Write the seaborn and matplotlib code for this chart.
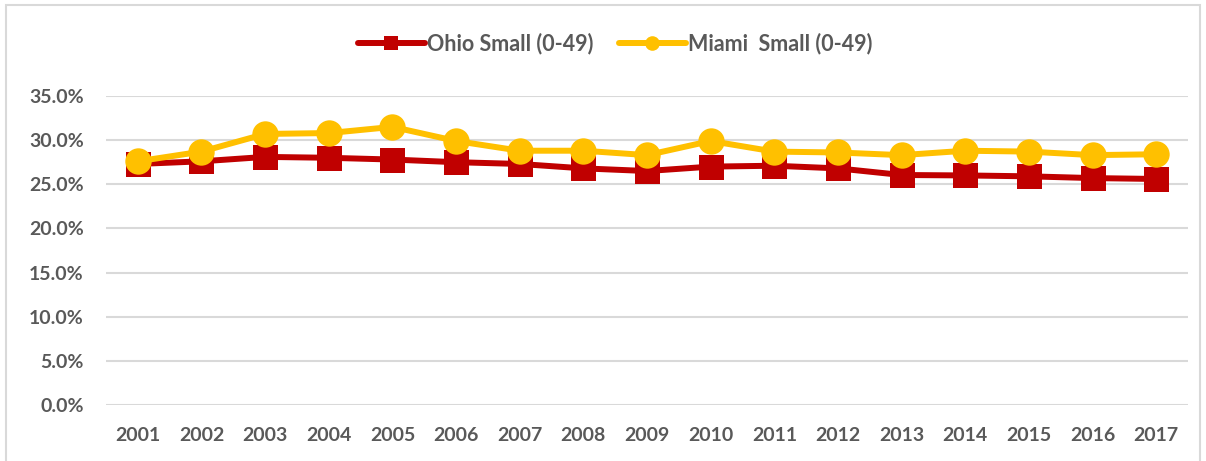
import seaborn as sns
import matplotlib.pyplot as plt
import pandas as pd
from matplotlib.patches import Rectangle
from matplotlib.ticker import PercentFormatter

# datos
years = list(range(2001, 2018))
ohio = [27.3, 27.6, 28.1, 28.0, 27.8, 27.5, 27.3, 26.8, 26.5, 27.0, 27.1, 26.8, 26.05, 26.0, 25.9, 25.7, 25.6]
miami = [27.6, 28.7, 30.7, 30.8, 31.5, 29.9, 28.8, 28.8, 28.3, 29.9, 28.7, 28.6, 28.3, 28.8, 28.7, 28.3, 28.4]
names = ["Ohio Small (0-49)", "Miami  Small (0-49)"]

sns.set_style("white")
plt.rcParams['font.family'] = ['Lato', 'DejaVu Sans']

fig = plt.figure(figsize=(12.06, 4.61), dpi=100)
ax = fig.add_axes([0.0879, 0.1215, 0.8972, 0.6703])

# borde gris del grafico
fig.patches.append(Rectangle((6 / 1206, -0.1), 1194 / 1206, 1.1 - 5 / 461, transform=fig.transFigure,
                             fill=False, edgecolor="#D9D9D9", linewidth=1.5, clip_on=False))

df = pd.DataFrame({"year": years, "ohio": ohio, "miami": miami})
sns.lineplot(data=df, x="year", y="ohio", ax=ax, color="#C00000", linewidth=4.3,
             marker="s", markersize=18, markeredgewidth=0, label=names[0], zorder=3)
sns.lineplot(data=df, x="year", y="miami", ax=ax, color="#FFC000", linewidth=4.3,
             marker="o", markersize=19, markeredgewidth=0, label=names[1], zorder=4)

ax.set_xlim(2000.5, 2017.5)
ax.set_ylim(0, 35)
ax.set_yticks(range(0, 36, 5))
ax.yaxis.set_major_formatter(PercentFormatter(decimals=1))
ax.set_xticks(years)
ax.yaxis.grid(True, color="#D9D9D9", linewidth=1.5)
ax.set_axisbelow(True)
ax.set(xlabel="", ylabel="")
sns.despine(ax=ax, left=True, bottom=True)
ax.tick_params(axis="both", length=0, labelsize=14, labelcolor="#595959")
ax.tick_params(axis="x", pad=16)
ax.tick_params(axis="y", pad=16)
for t in ax.get_xticklabels() + ax.get_yticklabels():
    t.set_fontweight("bold")

leg = ax.legend(loc="center", bbox_to_anchor=(0.51, 0.9046), bbox_transform=fig.transFigure,
                ncol=2, frameon=False, handlelength=3.1, columnspacing=1.2, handletextpad=0.1,
                prop={"weight": "bold", "size": 15.5})
for t in leg.get_texts():
    t.set_color("#595959")
for h in leg.get_lines():
    h.set_markersize(10.5)

fig.savefig("out.png", dpi=100)
